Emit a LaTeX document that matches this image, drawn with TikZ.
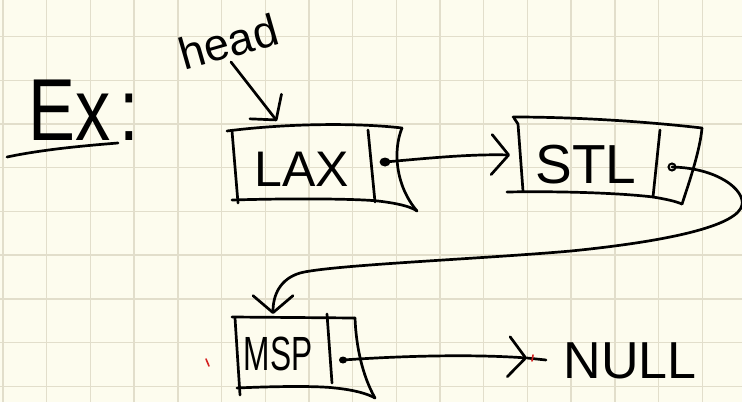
\documentclass[tikz,border=0pt]{standalone}
\usepackage{fontspec}
\usepackage{graphicx}
\setmainfont{Liberation Sans}
\usetikzlibrary{arrows.meta}
\definecolor{paper}{HTML}{FDFCEE}
\definecolor{gridc}{HTML}{E2DECB}
\definecolor{redmark}{HTML}{D42020}
\tikzset{
  ink/.style={draw=black,line width=2.7pt,line cap=round,line join=round},
  gridline/.style={draw=gridc,line width=1.4pt},
  arr/.style={ink,-{Straight Barb[length=17pt,width=40pt,round]}},
  label/.style={inner sep=0pt,text=black},
  redtick/.style={draw=redmark,line width=1.6pt,line cap=round}
}
\begin{document}
\begin{tikzpicture}[x=1pt,y=-1pt]
\fill[paper] (0,0) rectangle (742,402);
\useasboundingbox (0,0) rectangle (742,402);
% grid
\foreach \i in {0,...,16} \draw[gridline] ({3+43.7*\i},0) -- ({3+43.7*\i},402);
\foreach \j in {0,...,8} \draw[gridline] (0,{36.6+43.7*\j}) -- (742,{36.6+43.7*\j});

% Ex :
\node[label,anchor=base west] (ex) at (28,140) {\fontsize{88}{88}\selectfont\scalebox{0.8}[1]{Ex\hspace{12pt}:}};
\coordinate (ulA) at (7,157);
\coordinate (ulB) at (118,143);
\draw[ink] (ulA) .. controls (40,150) and (80,146) .. (ulB);

% head
\node[label,anchor=base,rotate=16] (head) at (233,57) {\fontsize{45}{45}\selectfont head};
\coordinate (headfoot) at (231,62);
\coordinate (laxtop) at (277,121);
\draw[arr] (headfoot) -- (laxtop);

% LAX box
\draw[ink] (227,131) .. controls (290,123) and (360,123) .. (402,128);
\draw[ink] (232,131) -- (238,203);
\draw[ink] (232,200) .. controls (300,198) and (360,199) .. (378,201) .. controls (395,203) and (410,206) .. (417,211);
\draw[ink] (402,128) .. controls (393,150) and (395,185) .. (417,211);
\draw[ink] (368,130) -- (375,202);
\node[label] (lax) at (302,169) {\fontsize{50}{50}\selectfont LAX};
\coordinate (laxdot) at (385,162);
\fill (laxdot) ellipse (5.5 and 4.5);

% STL box
\draw[ink] (513,117) .. controls (580,117) and (650,122) .. (702,128);
\draw[ink] (514,118) -- (518,124) -- (523,191);
\draw[ink] (507,192) .. controls (560,191) and (620,193) .. (653,197) .. controls (665,199) and (675,201) .. (682,204);
\draw[ink] (702,128) .. controls (700,150) and (690,180) .. (682,204);
\draw[ink] (660,130) -- (653,197);
\node[label,anchor=base] (stl) at (586,183) {\fontsize{55}{55}\selectfont STL};
\coordinate (stlin) at (510,155);
\coordinate (stldot) at (672,167);
\draw[line width=2pt] (stldot) circle (3.5);

\draw[arr] (laxdot) .. controls (430,158) and (470,154) .. (stlin);

% MSP box
\draw[ink] (232,317) -- (355,318);
\draw[ink] (235,318) -- (240,395);
\draw[ink] (237,388) .. controls (280,386) and (320,386) .. (335,388) .. controls (355,390) and (368,394) .. (375,398);
\draw[ink] (355,318) .. controls (356,345) and (362,375) .. (375,398);
\draw[ink] (327,314) -- (332,383);
\node[label,anchor=base] (msp) at (278,370) {\fontsize{48}{48}\selectfont\scalebox{0.66}[1]{MSP}};
\coordinate (mspdot) at (343,360);
\coordinate (msptop) at (273,314);
\fill (mspdot) ellipse (4 and 3.5);

% STL -> MSP
\draw[arr] (stldot) .. controls (718,168) and (745,190) .. (742,205)
  .. controls (738,224) and (680,240) .. (571,251)
  .. controls (480,259) and (330,265) .. (300,273)
  .. controls (280,279) and (273,295) .. (msptop);

% MSP -> NULL
\node[label,anchor=base] (null) at (630,378) {\fontsize{52}{52}\selectfont NULL};
\coordinate (nulltip) at (527,358);
\coordinate (nulldash) at (546,360);
\draw[arr] (mspdot) .. controls (400,356) and (470,354) .. (nulltip);
\draw[ink] (nulltip) -- (nulldash);

% stray red marks
\draw[redtick] (206,359) -- (209,366);
\draw[redtick] (533,355) -- (532,361);
\end{tikzpicture}
\end{document}
